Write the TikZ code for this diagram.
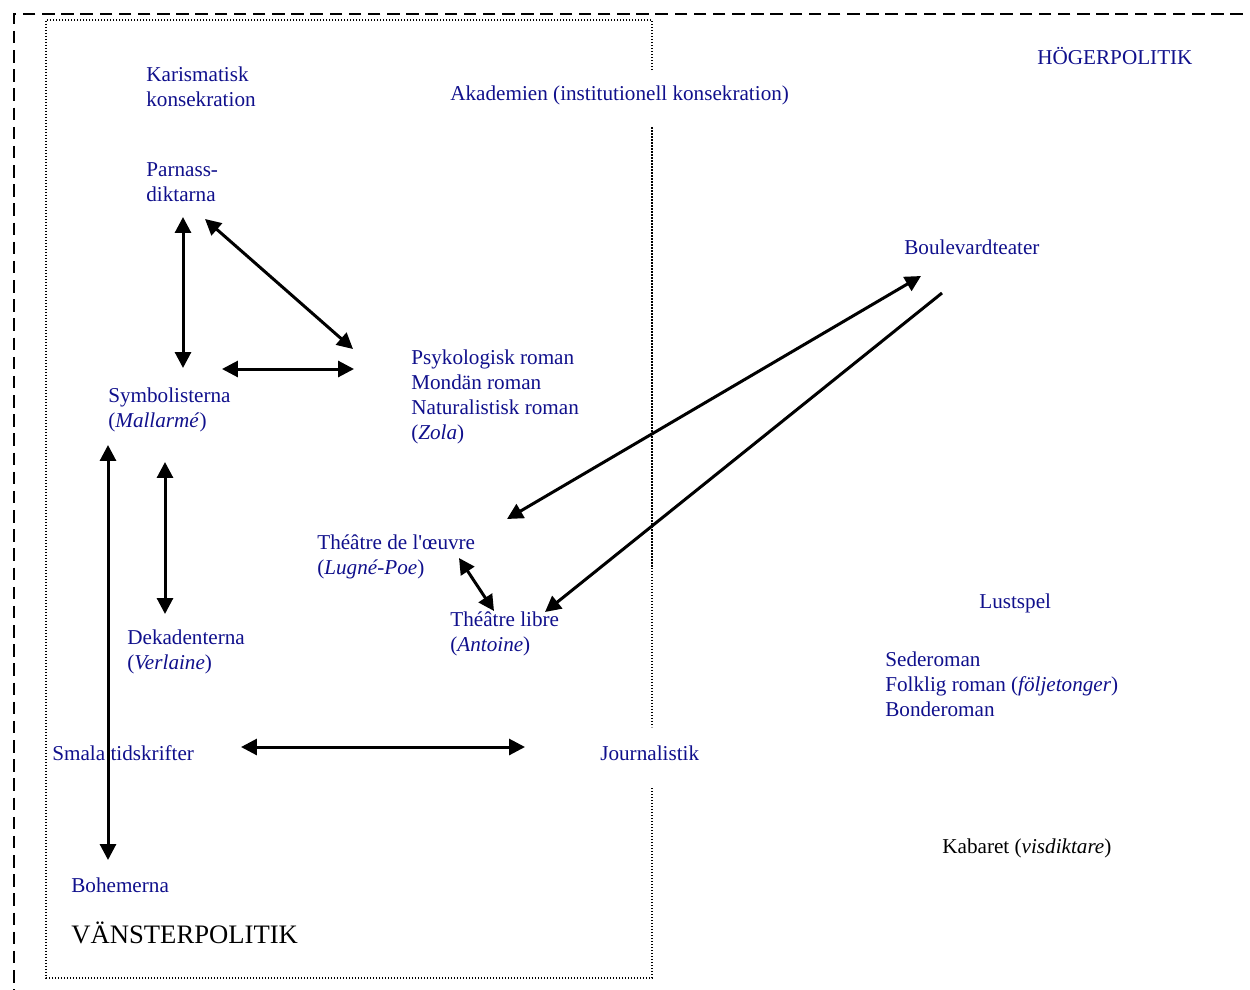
\documentclass[tikz,border=0pt]{standalone}
\usepackage{fontspec}
\setmainfont{Liberation Serif}
\usetikzlibrary{arrows.meta}
\definecolor{txtblue}{RGB}{16,16,140}
\begin{document}
\begin{tikzpicture}[x=0.6pt,y=-0.6pt,
  lbl/.style={anchor=west,inner sep=0pt,align=left,text=txtblue,font=\fontsize{12.7}{15}\selectfont},
  blk/.style={lbl,text=black},
  conn/.style={line width=1.8pt,{Triangle[length=9.5pt,width=9.5pt]}-{Triangle[length=9.5pt,width=9.5pt]}},
  oneway/.style={line width=1.8pt,-{Triangle[length=9.5pt,width=9.5pt]}},
  outerbox/.style={line width=1.1pt,dash pattern=on 7.5pt off 4pt},
  innerbox/.style={line width=0.7pt,dash pattern=on 0.9pt off 0.9pt}]
\useasboundingbox (0,0) rectangle (1250,990);
\clip (0,0) rectangle (1250,990);
% frames
\draw[outerbox] (1262,14) -- (14,14) -- (14,1002);
\draw[innerbox] (652,70) -- (652,20) -- (46,20) -- (46,978) -- (652,978) -- (652,787);
\draw[innerbox] (652,127) -- (652,727);
% texts
\node[lbl] (kar) at (146,87) {Karismatisk\\konsekration};
\node[lbl] (parn) at (146,182) {Parnass-\\diktarna};
\node[lbl] (akad) at (450,95) {Akademien (institutionell konsekration)};
\node[lbl] (hog) at (1037,56) {HÖGERPOLITIK};
\node[lbl] (boul) at (904,247) {Boulevardteater};
\node[lbl] (psyk) at (411,396.5) {Psykologisk roman\\Mondän roman\\Naturalistisk roman\\(\textit{Zola})};
\node[lbl] (symb) at (108,410) {Symbolisterna\\(\textit{Mallarmé})};
\node[lbl] (oeuv) at (317,557) {Théâtre de l\textquotesingle œuvre\\(\textit{Lugné-Poe})};
\node[lbl] (libre) at (450,633.5) {Théâtre libre\\(\textit{Antoine})};
\node[lbl] (dek) at (127,651.5) {Dekadenterna\\(\textit{Verlaine})};
\node[lbl] (lust) at (979,603) {Lustspel};
\node[lbl] (seder) at (885,684) {Sederoman\\Folklig roman (\textit{följetonger})\\Bonderoman};
\node[lbl] (smala) at (52,753) {Smala tidskrifter};
\node[lbl] (journ) at (600,753) {Journalistik};
\node[blk] (kab) at (942,848) {Kabaret (\textit{visdiktare})};
\node[lbl] (boh) at (71,885) {Bohemerna};
\node[blk,font=\fontsize{16}{19}\selectfont] (vans) at (71,933) {VÄNSTERPOLITIK};
% connector end points
\coordinate (parnS) at (183,217);
\coordinate (symbN) at (183,368);
\coordinate (parnSE) at (205,219);
\coordinate (psykNW) at (353,349);
\coordinate (symbE) at (222,369);
\coordinate (psykW) at (354,369);
\coordinate (symbS) at (165,462);
\coordinate (dekN) at (165,614);
\coordinate (symbSW) at (108,445);
\coordinate (bohN) at (108,860);
\coordinate (smalaE) at (241,747);
\coordinate (journW) at (525,747);
\coordinate (boulSW) at (921,276);
\coordinate (oeuvNE) at (507,519);
\coordinate (boulS) at (942,293);
\coordinate (libreNE) at (545,612);
\coordinate (oeuvS) at (459,558);
\coordinate (libreN) at (494,611);
% connectors
\draw[conn] (parnS) -- (symbN);
\draw[conn] (parnSE) -- (psykNW);
\draw[conn] (symbE) -- (psykW);
\draw[conn] (symbS) -- (dekN);
\draw[conn] (symbSW) -- (bohN);
\draw[conn] (smalaE) -- (journW);
\draw[conn] (boulSW) -- (oeuvNE);
\draw[oneway] (boulS) -- (libreNE);
\draw[conn] (oeuvS) -- (libreN);
\end{tikzpicture}
\end{document}
